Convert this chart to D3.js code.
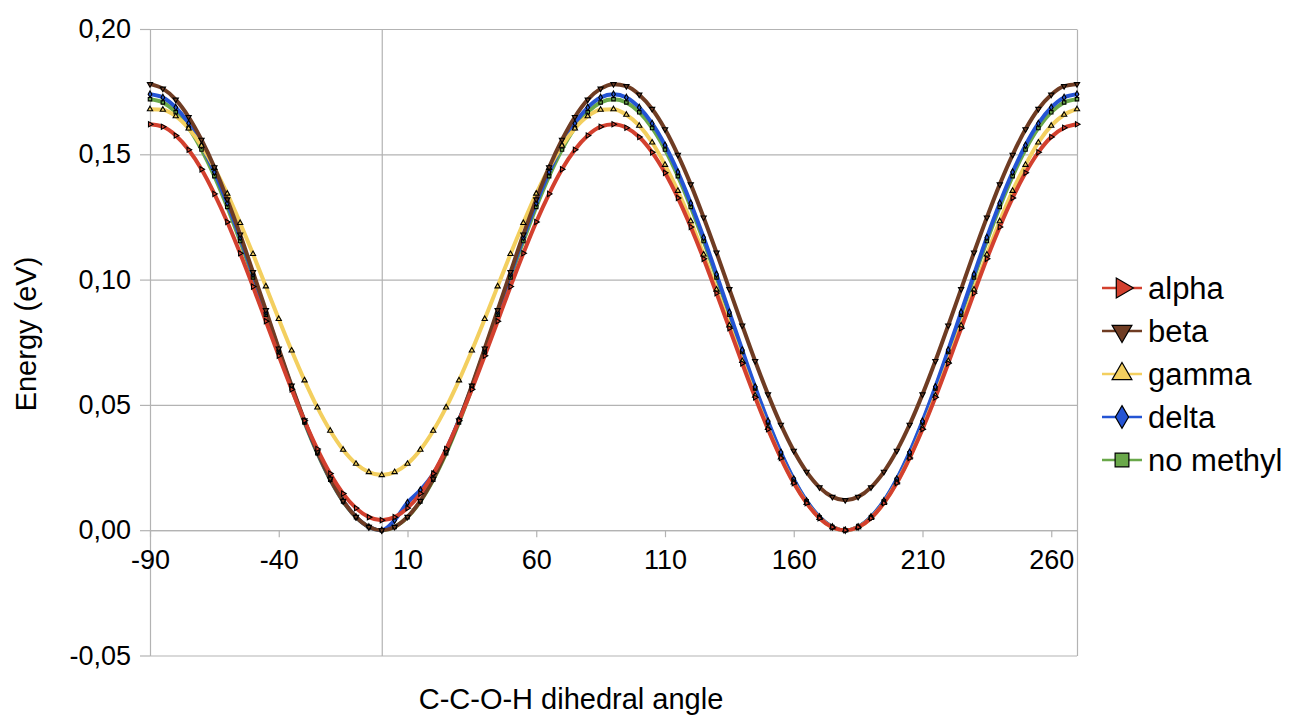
<!DOCTYPE html>
<html><head><meta charset="utf-8">
<script src="https://cdn.jsdelivr.net/npm/d3@7"></script>
<style>
body{margin:0;background:#fff;}
text{font-family:"Liberation Sans",Arial,Helvetica,sans-serif;fill:#000;}
</style>
</head><body>
<svg id="chart" width="1293" height="715"></svg>
<script>
const angles = [-90,-85,-80,-75,-70,-65,-60,-55,-50,-45,-40,-35,-30,-25,-20,-15,-10,-5,0,5,10,15,20,25,30,35,40,45,50,55,60,65,70,75,80,85,90,95,100,105,110,115,120,125,130,135,140,145,150,155,160,165,170,175,180,185,190,195,200,205,210,215,220,225,230,235,240,245,250,255,260,265,270];

const alpha = [0.1620,0.1610,0.1575,0.1518,0.1440,0.1342,0.1230,0.1105,0.0972,0.0834,0.0696,0.0562,0.0437,0.0324,0.0226,0.0146,0.0088,0.0052,
0.0040,
0.0052,0.0088,0.0146,0.0226,0.0324,0.0437,0.0562,0.0696,0.0834,0.0972,0.1105,0.1230,0.1342,0.1440,0.1518,0.1575,0.1610,
0.1620,
0.1606,0.1569,0.1508,0.1426,0.1326,0.1210,0.1083,0.0946,0.0806,0.0666,0.0530,0.0403,0.0288,0.0188,0.0108,0.0048,0.0012,
0.0000,
0.0012,0.0048,0.0108,0.0188,0.0288,0.0403,0.0530,0.0666,0.0806,0.0946,0.1083,0.1210,0.1326,0.1426,0.1508,0.1569,0.1606,
0.1620];

const beta = [0.1780,0.1762,0.1718,0.1649,0.1558,0.1448,0.1320,0.1180,0.1030,0.0878,0.0725,0.0577,0.0438,0.0313,0.0205,0.0117,0.0053,0.0013,
0.0000,
0.0013,0.0053,0.0117,0.0205,0.0313,0.0438,0.0577,0.0725,0.0878,0.1030,0.1180,0.1320,0.1448,0.1558,0.1649,0.1718,0.1762,
0.1780,
0.1772,0.1738,0.1681,0.1600,0.1498,0.1380,0.1248,0.1108,0.0962,0.0817,0.0675,0.0542,0.0421,0.0317,0.0233,0.0171,0.0133,
0.0120,
0.0133,0.0171,0.0233,0.0317,0.0421,0.0542,0.0675,0.0817,0.0962,0.1108,0.1248,0.1380,0.1498,0.1600,0.1681,0.1738,0.1772,
0.1780];

const gamma = [0.1680,0.1678,0.1652,0.1603,0.1534,0.1446,0.1343,0.1226,0.1102,0.0973,0.0843,0.0717,0.0598,0.0490,0.0397,0.0321,0.0265,0.0232,
0.0220,
0.0232,0.0265,0.0321,0.0397,0.0490,0.0598,0.0717,0.0843,0.0973,0.1102,0.1226,0.1343,0.1446,0.1534,0.1603,0.1652,0.1678,
0.1680,
0.1658,0.1614,0.1547,0.1458,0.1354,0.1233,0.1100,0.0960,0.0817,0.0675,0.0537,0.0408,0.0290,0.0191,0.0109,0.0049,0.0012,
0.0000,
0.0012,0.0049,0.0109,0.0191,0.0290,0.0408,0.0537,0.0675,0.0817,0.0960,0.1100,0.1233,0.1354,0.1458,0.1547,0.1614,0.1658,
0.1680];

const delta = [0.1740,0.1727,0.1687,0.1623,0.1536,0.1429,0.1305,0.1168,0.1021,0.0870,0.0719,0.0572,0.0435,0.0311,0.0204,0.0117,0.0053,0.0013,
0.0000,
0.0040,0.0110,0.0160,0.0225,0.0320,0.0440,0.0572,0.0719,0.0870,0.1021,0.1168,0.1305,0.1429,0.1536,0.1623,0.1687,0.1727,
0.1740,
0.1727,0.1687,0.1623,0.1536,0.1429,0.1305,0.1168,0.1021,0.0870,0.0719,0.0572,0.0435,0.0311,0.0204,0.0117,0.0053,0.0013,
0.0000,
0.0013,0.0053,0.0117,0.0204,0.0311,0.0435,0.0572,0.0719,0.0870,0.1021,0.1168,0.1305,0.1429,0.1536,0.1623,0.1687,0.1727,
0.1740];

const noMethyl = [0.1720,0.1707,0.1668,0.1605,0.1519,0.1413,0.1290,0.1154,0.1009,0.0860,0.0711,0.0566,0.0430,0.0307,0.0201,0.0115,0.0052,0.0013,
0.0000,
0.0013,0.0052,0.0115,0.0201,0.0307,0.0430,0.0566,0.0711,0.0860,0.1009,0.1154,0.1290,0.1413,0.1519,0.1605,0.1668,0.1707,
0.1720,
0.1707,0.1668,0.1605,0.1519,0.1413,0.1290,0.1154,0.1009,0.0860,0.0711,0.0566,0.0430,0.0307,0.0201,0.0115,0.0052,0.0013,
0.0000,
0.0013,0.0052,0.0115,0.0201,0.0307,0.0430,0.0566,0.0711,0.0860,0.1009,0.1154,0.1290,0.1413,0.1519,0.1605,0.1668,0.1707,
0.1720];

const seriesNames = ["alpha","beta","gamma","delta","no methyl"];
const seriesColors = ["#d3402e","#6f3c23","#f3cf5f","#2454d4","#6aa84a"];
const seriesSymbols = ["triRight","triDown","triUp","diamond","square"];

const yTickValues = [-0.05,0.00,0.05,0.10,0.15,0.20];
const yTickLabels = ["-0,05","0,00","0,05","0,10","0,15","0,20"];
const xTickValues = [-90,-40,10,60,110,160,210,260];
const xTickLabels = ["-90","-40","10","60","110","160","210","260"];

const xTitle = "C-C-O-H dihedral angle";
const yTitle = "Energy (eV)";

const allSeries = [alpha, beta, gamma, delta, noMethyl];

const svg = d3.select("#chart");
const L = 150, R = 1077, T = 29, B = 655.5;
const x = d3.scaleLinear().domain([-90,270]).range([L,R]);
const y = d3.scaleLinear().domain([-0.05,0.20]).range([B,T]);
const gridColor = "#b3b3b3";
const FONT = "'Liberation Sans',Arial,sans-serif";

// horizontal gridlines
const grid = svg.append("g").attr("transform",`translate(${L},0)`)
  .call(d3.axisLeft(y).tickValues(yTickValues).tickSize(-(R-L)).tickFormat(""));
grid.select(".domain").remove();
grid.selectAll("line").attr("stroke",gridColor).attr("stroke-width",1.2);

// left axis with outside tick marks and labels
const yAx = svg.append("g").attr("transform",`translate(${L},0)`)
  .call(d3.axisLeft(y).tickValues(yTickValues).tickFormat((d,i)=>yTickLabels[i]).tickSizeInner(10).tickSizeOuter(0).tickPadding(9));
yAx.select(".domain").attr("stroke",gridColor).attr("stroke-width",1.2);
yAx.selectAll("line").attr("stroke",gridColor).attr("stroke-width",1.2);
yAx.selectAll("text").attr("font-size",27).attr("fill","#000").attr("font-family",FONT);

// right border
const yAxR = svg.append("g").attr("transform",`translate(${R},0)`)
  .call(d3.axisRight(y).tickValues([]).tickSizeOuter(0));
yAxR.select(".domain").attr("stroke",gridColor).attr("stroke-width",1.2);

// vertical line crossing at x = 0
const yAx0 = svg.append("g").attr("transform",`translate(${x(0)},0)`)
  .call(d3.axisLeft(y).tickValues([]).tickSizeOuter(0));
yAx0.select(".domain").attr("stroke",gridColor).attr("stroke-width",1.2);

// x axis at y = 0
const xAx = svg.append("g").attr("transform",`translate(0,${y(0)})`)
  .call(d3.axisBottom(x).tickValues(xTickValues).tickFormat((d,i)=>xTickLabels[i]).tickSizeInner(7).tickSizeOuter(0).tickPadding(13));
xAx.select(".domain").attr("stroke",gridColor).attr("stroke-width",1.2);
xAx.selectAll("line").attr("stroke",gridColor).attr("stroke-width",1.2);
xAx.selectAll("text").attr("font-size",27).attr("fill","#000").attr("font-family",FONT);

// symbols
function symPath(kind, size){
  const map = {triRight:d3.symbolTriangle, triDown:d3.symbolTriangle, triUp:d3.symbolTriangle, diamond:d3.symbolDiamond, square:d3.symbolSquare};
  return d3.symbol().type(map[kind]).size(size)();
}
function symRot(kind){ return kind==="triRight"?90:(kind==="triDown"?180:0); }

const line = d3.line().curve(d3.curveMonotoneX).x((d,i)=>x(angles[i])).y(d=>y(d));

const plot = svg.append("g");
const order = [4,3,2,1,0];
order.forEach(si=>{
  const data = allSeries[si];
  plot.append("path").datum(data)
    .attr("d", line)
    .attr("fill","none")
    .attr("stroke", seriesColors[si])
    .attr("stroke-width",4)
    .attr("stroke-linejoin","round");
});
order.forEach(si=>{
  const data = allSeries[si];
  plot.append("g").selectAll("path").data(data).join("path")
    .attr("d", symPath(seriesSymbols[si], 12))
    .attr("transform",(d,i)=>`translate(${x(angles[i])},${y(d)}) rotate(${symRot(seriesSymbols[si])})`)
    .attr("fill", seriesColors[si])
    .attr("stroke","#000")
    .attr("stroke-width",1.1);
});

// axis titles
svg.append("text").attr("x", 571).attr("y", 709)
  .attr("text-anchor","middle").attr("font-size",29).text(xTitle);
svg.append("text").attr("transform","translate(36,334) rotate(-90)")
  .attr("text-anchor","middle").attr("font-size",29).text(yTitle);

// legend
const leg = svg.append("g");
seriesNames.forEach((name,i)=>{
  const cy = 288 + i*43;
  leg.append("line").attr("x1",1102).attr("x2",1142).attr("y1",cy).attr("y2",cy)
    .attr("stroke",seriesColors[i]).attr("stroke-width",2.5);
  const k = seriesSymbols[i];
  const sz = k==="square"?190:(k==="diamond"?150:170);
  leg.append("path").attr("d", symPath(k, sz))
    .attr("transform",`translate(1122,${cy}) rotate(${symRot(k)})`)
    .attr("fill",seriesColors[i]).attr("stroke","#000").attr("stroke-width",1.2);
  leg.append("text").attr("x",1148).attr("y",cy).attr("dy","0.35em")
    .attr("font-size",31).text(name);
});
</script>
</body></html>
